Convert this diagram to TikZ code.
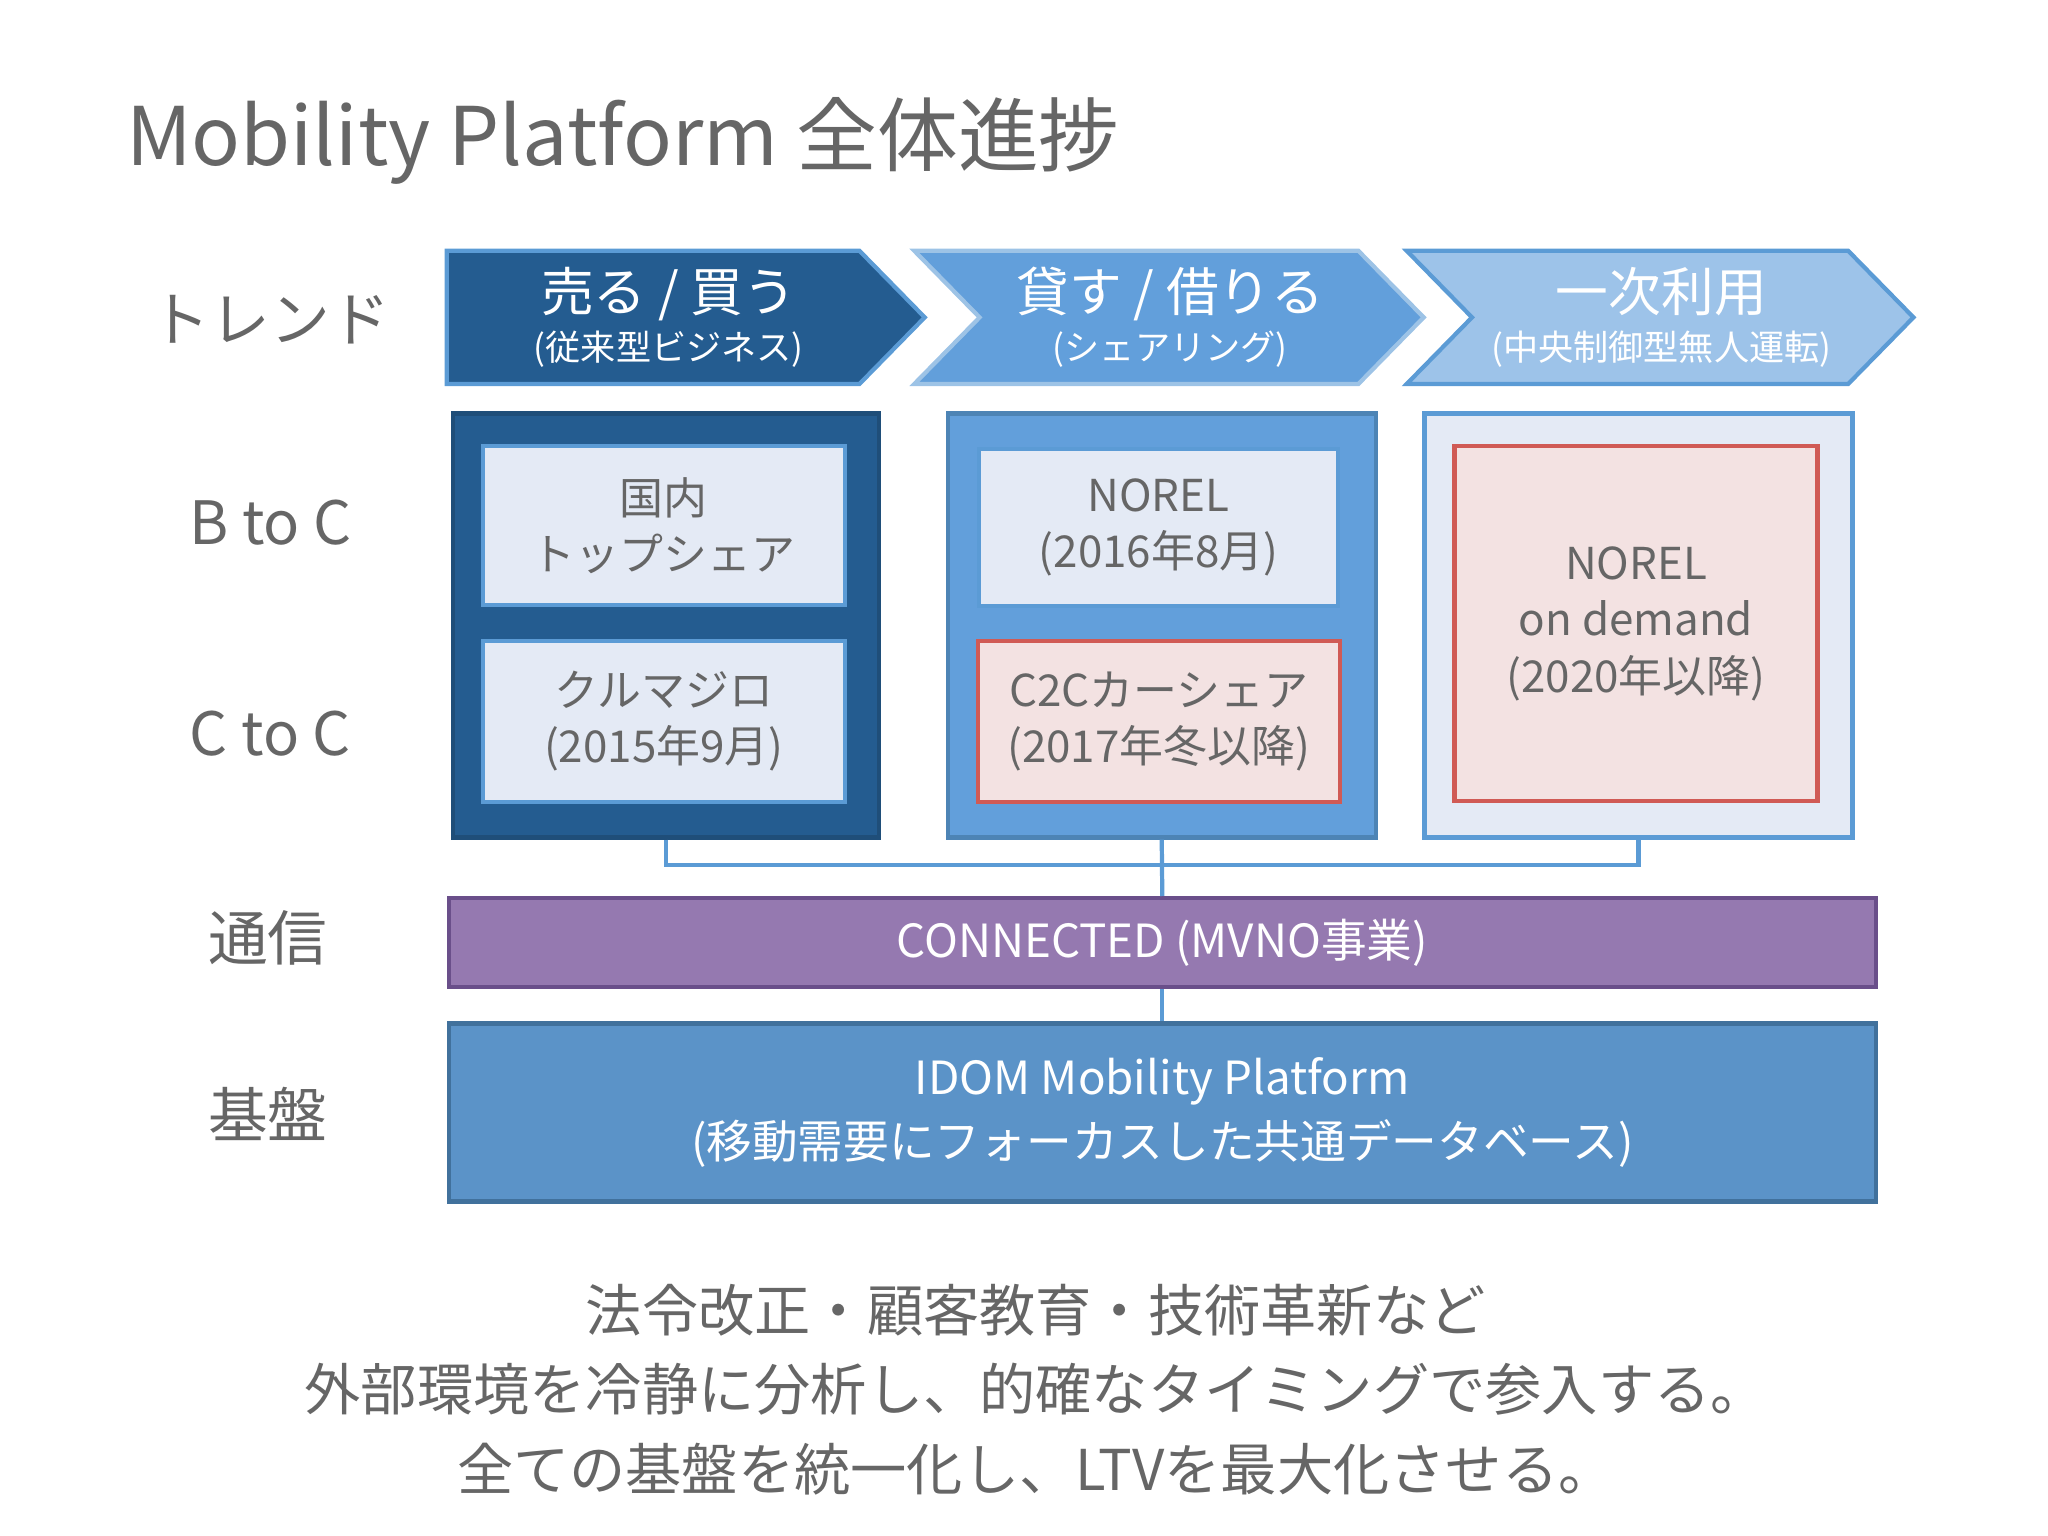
\documentclass[tikz,border=0pt]{standalone}
\usepackage{fontspec}
\setmainfont{Noto Sans CJK JP}
\usetikzlibrary{positioning}
\definecolor{txtgray}{HTML}{666666}
\definecolor{darkblue}{HTML}{245C90}
\definecolor{darkline}{HTML}{1F4E79}
\definecolor{midblue}{HTML}{629FDB}
\definecolor{lineblue}{HTML}{5B9BD5}
\definecolor{lightblue}{HTML}{9DC3E9}
\definecolor{paleblue}{HTML}{E4EAF5}
\definecolor{palepink}{HTML}{F3E2E2}
\definecolor{redline}{HTML}{D05A55}
\definecolor{purple}{HTML}{9579B0}
\definecolor{purpleline}{HTML}{6A4F8A}
\definecolor{baseblue}{HTML}{5B93C8}
\definecolor{baseline}{HTML}{41719C}
\tikzset{
  rowlabel/.style={text=txtgray, font=\fontsize{17}{20}\selectfont},
  column/.style={draw=#1, line width=1.2pt, anchor=north west, inner sep=0pt},
  inbox/.style={draw=lineblue, fill=paleblue, line width=1.2pt, anchor=north west,
    inner sep=0pt, align=center, text=txtgray, font=\fontsize{12.5}{16}\selectfont},
  pinkbox/.style={inbox, draw=redline, fill=palepink},
  bar/.style={line width=1.2pt, anchor=north west, inner sep=0pt, align=center,
    text=white, font=\fontsize{13}{18}\selectfont},
  link/.style={lineblue, line width=1.2pt},
}
\begin{document}
\begin{tikzpicture}[x=0.01306cm, y=-0.01306cm]
\useasboundingbox (0,0) rectangle (1568,1176);
% title
\node[anchor=west, text=txtgray, font=\fontsize{23}{28}\selectfont] (title) at (87,108) {Mobility Platform 全体進捗};
% row labels
\node[rowlabel] (trend) at (207,245) {トレンド};
\node[rowlabel] (btoc) at (207,400) {B to C};
\node[rowlabel] (ctoc) at (207,562) {C to C};
\node[rowlabel] (tsushin) at (205,718) {通信};
\node[rowlabel] (kiban) at (205,853) {基盤};
% trend arrows
\filldraw[fill=darkblue, draw=lineblue, line width=1.2pt]
  (342,192) -- (658,192) -- (708,243) -- (658,294) -- (342,294) -- cycle;
\filldraw[fill=midblue, draw=lineblue!60, line width=1.2pt]
  (700,192) -- (1040,192) -- (1090,243) -- (1040,294) -- (700,294) -- (750,243) -- cycle;
\filldraw[fill=lightblue, draw=lineblue, line width=1.2pt]
  (1077,192) -- (1415,192) -- (1465,243) -- (1415,294) -- (1077,294) -- (1127,243) -- cycle;
\node[align=center, text=white, font=\fontsize{15}{16}\selectfont] (sell) at (512,243)
  {売る / 買う\\[-2pt]{\fontsize{10}{12}\selectfont (従来型ビジネス)}};
\node[align=center, text=white, font=\fontsize{15}{16}\selectfont] (lend) at (896,243)
  {貸す / 借りる\\[-2pt]{\fontsize{10}{12}\selectfont (シェアリング)}};
\node[align=center, text=white, font=\fontsize{15}{16}\selectfont] (use) at (1272,243)
  {一次利用\\[-2pt]{\fontsize{10}{12}\selectfont (中央制御型無人運転)}};
% columns
\node[column=darkline, fill=darkblue, minimum width=4.26cm, minimum height=4.24cm] (col1) at (345,315) {};
\node[column=lineblue!85!black, fill=midblue, minimum width=4.28cm, minimum height=4.24cm] (col2) at (724,315) {};
\node[column=lineblue, fill=paleblue, minimum width=4.28cm, minimum height=4.24cm] (col3) at (1089,315) {};
\node[inbox, minimum width=3.62cm, minimum height=1.59cm] (share) at (368,340) {国内\\トップシェア};
\node[inbox, minimum width=3.62cm, minimum height=1.61cm] (kuruma) at (368,489) {クルマジロ\\(2015年9月)};
\node[inbox, minimum width=3.59cm, minimum height=1.57cm] (norel) at (748,342) {NOREL\\(2016年8月)};
\node[pinkbox, minimum width=3.62cm, minimum height=1.61cm] (c2c) at (747,489) {C2Cカーシェア\\(2017年冬以降)};
\node[pinkbox, minimum width=3.63cm, minimum height=3.55cm] (demand) at (1112,340) {NOREL\\on demand\\(2020年以降)};
% bars
\node[bar, draw=purpleline, fill=purple, minimum width=14.27cm, minimum height=0.89cm] (connected) at (342,686)
  {CONNECTED (MVNO事業)};
\node[bar, draw=baseline, fill=baseblue, minimum width=14.27cm, minimum height=1.78cm] (idom) at (342,782)
  {IDOM Mobility Platform\\(移動需要にフォーカスした共通データベース)};
% links
\coordinate (hub) at (col2.south |- 0,662);
\draw[link] (col1.south) |- (hub) -| (col3.south);
\draw[link] (col2.south) -- (connected.north);
\draw[link] (connected.south) -- (idom.north);
% message
\node[align=center, text=txtgray, font=\fontsize{16}{22.5}\selectfont] (msg) at (793,1064)
  {法令改正・顧客教育・技術革新など\\外部環境を冷静に分析し、的確なタイミングで参入する。\\全ての基盤を統一化し、LTVを最大化させる。};
\end{tikzpicture}
\end{document}
